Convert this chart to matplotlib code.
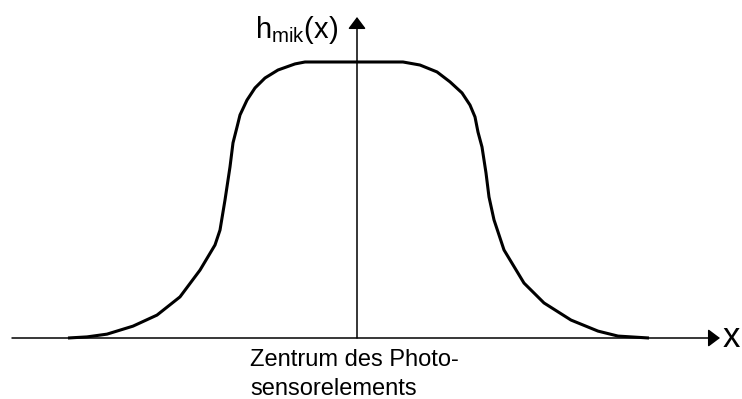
import matplotlib
matplotlib.use("Agg", force=True)
import matplotlib.pyplot as plt
import numpy as np

# point spread curve h_mik(x), x relative to sensor centre, h normalised to plateau
x_vals = [-2.89, -2.70, -2.50, -2.24, -2.00, -1.77, -1.57, -1.42, -1.37, -1.32,
          -1.27, -1.24, -1.20, -1.17, -1.10, -1.02, -0.92, -0.79, -0.62, -0.52,
          0.46, 0.63, 0.80, 0.93, 1.05, 1.13, 1.18, 1.21, 1.25, 1.29, 1.32,
          1.37, 1.47, 1.67, 1.87, 2.14, 2.41, 2.61, 2.92]
h_vals = [0.0, 0.004, 0.014, 0.043, 0.083, 0.149, 0.246, 0.337, 0.391, 0.500,
          0.620, 0.707, 0.764, 0.808, 0.862, 0.906, 0.942, 0.971, 0.993, 1.0,
          1.0, 0.989, 0.964, 0.928, 0.888, 0.844, 0.801, 0.746, 0.692, 0.598, 0.511,
          0.428, 0.319, 0.199, 0.127, 0.065, 0.025, 0.007, 0.0]

y_label = r"$\mathregular{h_{mik}(x)}$"
x_label = "x"
center_lines = ["Zentrum des Photo-", "sensorelements"]

plt.rcParams['font.family'] = ['Liberation Sans', 'DejaVu Sans']

fig = plt.figure(figsize=(7.42, 3.99), dpi=100)
ax = fig.add_axes([0, 0, 1, 1])
ax.set_xlim(-3.57, 3.85)
ax.set_ylim(-0.221, 1.2246)
ax.axis('off')

ax.plot(x_vals, h_vals, color='black', linewidth=2.2,
        solid_joinstyle='round', solid_capstyle='butt')

# axes with arrow heads
arrow = dict(arrowstyle='-|>,head_length=0.6,head_width=0.45', color='black',
             lw=1.1, mutation_scale=12, shrinkA=0, shrinkB=0)
ax.annotate('', xy=(3.63, 0), xytext=(-3.45, 0), arrowprops=arrow)
ax.annotate('', xy=(0, 1.163), xytext=(0, 0), arrowprops=arrow)

ax.text(-0.19, 1.087, y_label, fontsize=21, ha='right', va='baseline')
ax.text(3.66, -0.033, x_label, fontsize=25, ha='left', va='baseline')
ax.text(-1.07, -0.101, center_lines[0], fontsize=17, ha='left', va='baseline')
ax.text(-1.07, -0.207, center_lines[1], fontsize=17, ha='left', va='baseline')

fig.savefig("out.png", dpi=100)
plt.close(fig)
